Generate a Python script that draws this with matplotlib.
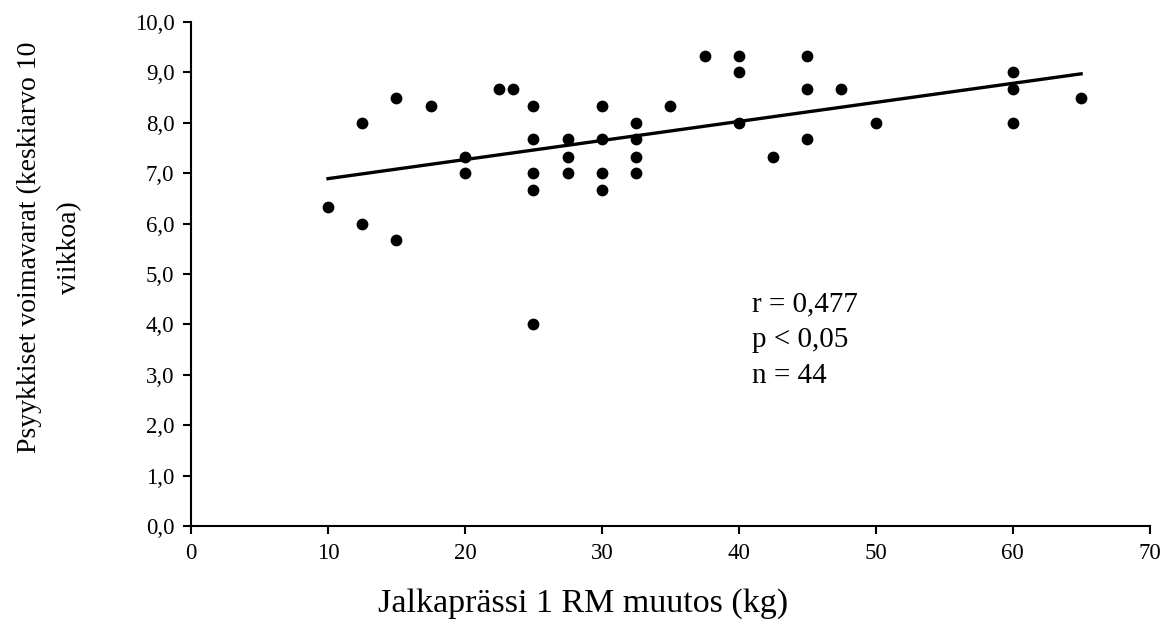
import numpy as np
import matplotlib
matplotlib.use("Agg")
import matplotlib.pyplot as plt
from matplotlib.ticker import FuncFormatter

# leg press 1RM change (kg) vs mental resources (mean over 10 weeks)
kg_change = [10, 12.5, 12.5, 15, 15, 17.5, 20, 20, 22.5, 23.5,
             25, 25, 25, 25, 25, 27.5, 27.5, 27.5,
             30, 30, 30, 30, 32.5, 32.5, 32.5, 32.5,
             35, 37.5, 40, 40, 40, 42.5, 45, 45, 45, 47.5, 50,
             60, 60, 60, 65]
resources = [6.33, 8.0, 6.0, 8.5, 5.67, 8.33, 7.33, 7.0, 8.67, 8.67,
             8.33, 7.67, 7.0, 6.67, 4.0, 7.67, 7.33, 7.0,
             8.33, 7.67, 7.0, 6.67, 8.0, 7.67, 7.33, 7.0,
             8.33, 9.33, 9.33, 9.0, 8.0, 7.33, 9.33, 8.67, 7.67, 8.67, 8.0,
             9.0, 8.67, 8.0, 8.5]

stats_text = "r = 0,477\np < 0,05\nn = 44"

plt.rcParams["font.family"] = ["Liberation Serif", "DejaVu Serif"]

fig = plt.figure(figsize=(11.6, 6.21), dpi=100)
ax = fig.add_axes([0.1647, 0.153, 0.8263, 0.8116])

x = np.array(kg_change)
y = np.array(resources)
ax.scatter(x, y, s=72, color="black", zorder=3, linewidths=0)

slope, intercept = np.polyfit(x, y, 1)
xl = np.array([x.min(), x.max()])
ax.plot(xl, slope * xl + intercept, color="black", lw=2.4, zorder=2)

ax.set_xlim(0, 70)
ax.set_ylim(0, 10)
ax.set_xticks(range(0, 71, 10))
ax.set_yticks(np.arange(0, 10.1, 1))
ax.yaxis.set_major_formatter(FuncFormatter(lambda v, p: f"{v:.1f}".replace(".", ",")))

for side in ["top", "right"]:
    ax.spines[side].set_visible(False)
for side in ["left", "bottom"]:
    ax.spines[side].set_linewidth(1.5)
ax.tick_params(direction="out", length=6, width=1.5, labelsize=16.5, pad=6)

ax.set_xlabel("Jalkaprässi 1 RM muutos (kg)", fontsize=24.5, labelpad=18, x=0.409)
ax.set_ylabel("Psyykkiset voimavarat (keskiarvo 10\nviikkoa)", fontsize=20,
              linespacing=1.75)
ax.yaxis.set_label_coords(-0.114, 0.553)

ax.text(41, 4.66, stats_text, fontsize=21, va="top", ha="left", linespacing=1.5)

fig.savefig("out.png", dpi=100)
